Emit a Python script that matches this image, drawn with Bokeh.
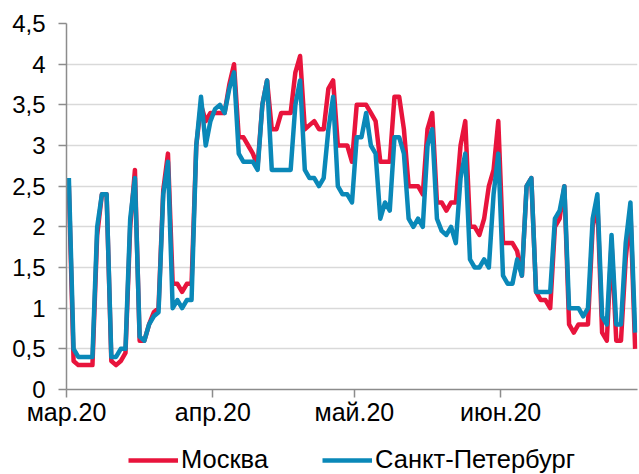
import pandas as pd
from bokeh.plotting import figure
from bokeh.layouts import column
from bokeh.models import Range1d, FixedTicker, Legend, LegendItem, CustomJSTickFormatter
from bokeh.embed import file_html
from bokeh.resources import INLINE

start_date = "2020-03-01"

moscow = [2.5, 0.35, 0.3, 0.3, 0.3, 0.3, 1.9, 2.4, 2.4, 0.35,
          0.3, 0.35, 0.45, 2.0, 2.7, 0.6, 0.6, 0.8, 0.95, 1.0,
          2.45, 2.9, 1.3, 1.3, 1.2, 1.3, 1.3, 3.0, 3.5, 3.3,
          3.4, 3.4, 3.4, 3.4, 3.75, 4.0, 3.1, 3.1, 3.0, 2.9,
          2.75, 3.5, 3.8, 3.2, 3.2, 3.4, 3.4, 3.4, 3.9, 4.1,
          3.2, 3.25, 3.3, 3.2, 3.2, 3.7, 3.8, 3.0, 3.0, 3.0,
          2.8, 3.5, 3.5, 3.5, 3.4, 3.3, 2.8, 2.8, 2.8, 3.6,
          3.6, 3.2, 2.5, 2.5, 2.5, 2.4, 3.2, 3.4, 2.3, 2.3,
          2.2, 2.3, 2.3, 3.0, 3.3, 2.0, 2.0, 1.9, 2.1, 2.5,
          2.7, 3.3, 1.8, 1.8, 1.8, 1.7, 1.4, 2.5, 2.6, 1.2,
          1.1, 1.1, 1.0, 2.0, 2.1, 2.5, 0.8, 0.7, 0.8, 0.8,
          0.8, 2.0, 2.3, 0.7, 0.6, 1.8, 0.6, 0.6, 1.6, 2.2,
          0.5]

spb = [2.6, 0.5, 0.4, 0.4, 0.4, 0.4, 2.0, 2.4, 2.4, 0.4,
       0.4, 0.5, 0.5, 2.1, 2.6, 0.65, 0.6, 0.8, 0.9, 0.95,
       2.4, 2.8, 1.0, 1.1, 1.0, 1.1, 1.1, 3.0, 3.6, 3.0,
       3.3, 3.45, 3.5, 3.4, 3.7, 3.9, 2.9, 2.8, 2.8, 2.8,
       2.7, 3.5, 3.8, 2.7, 2.7, 2.7, 2.7, 2.7, 3.5, 3.8,
       2.7, 2.6, 2.6, 2.5, 2.6, 3.2, 3.6, 2.5, 2.4, 2.4,
       2.3, 3.1, 3.1, 3.4, 3.0, 2.9, 2.1, 2.3, 2.2, 3.1,
       3.1, 2.9, 2.1, 2.0, 2.1, 2.0, 3.0, 3.2, 2.1, 1.95,
       1.9, 2.0, 1.8, 2.6, 2.9, 1.6, 1.5, 1.5, 1.6, 1.5,
       2.4, 2.9, 1.4, 1.3, 1.3, 1.6, 1.4, 2.5, 2.6, 1.2,
       1.2, 1.2, 1.2, 2.1, 2.2, 2.5, 1.0, 1.0, 1.0, 0.9,
       1.0, 2.1, 2.4, 0.9, 0.8, 1.9, 0.8, 0.8, 1.8, 2.3,
       0.7]

series_names = ["Москва", "Санкт-Петербург"]
month_starts = ["2020-03-01", "2020-04-01", "2020-05-01", "2020-06-01"]
month_labels = ["мар.20", "апр.20", "май.20", "июн.20"]
y_ticks = [0, 0.5, 1, 1.5, 2, 2.5, 3, 3.5, 4, 4.5]

dates = pd.date_range(start_date, periods=len(moscow), freq="D")
t0 = dates[0]
x = [(d - t0).days + 0.5 for d in dates]
tick_pos = [(pd.Timestamp(m) - t0).days for m in month_starts]

FONT = "Liberation Sans"
RED = "#E8143C"
BLUE = "#0A88B8"
AXIS = "#8C8C8C"

p = figure(width=639, height=428, output_backend="svg", toolbar_location=None,
           x_range=Range1d(0, len(moscow)), y_range=Range1d(0, 4.5),
           min_border_left=66, min_border_top=23, min_border_right=2, min_border_bottom=39)
p.outline_line_color = None
p.background_fill_color = "white"
p.border_fill_color = "white"

r1 = p.line(x, moscow, line_color=RED, line_width=4.5, line_join="round")
r2 = p.line(x, spb, line_color=BLUE, line_width=4.5, line_join="round")

p.xgrid.visible = False
p.ygrid.grid_line_color = "#D9D9D9"
p.ygrid.grid_line_width = 1.5

p.yaxis.ticker = FixedTicker(ticks=y_ticks)
p.yaxis.formatter = CustomJSTickFormatter(code="return (Math.round(tick*10)/10).toString().replace('.', ',');")
p.xaxis.ticker = FixedTicker(ticks=tick_pos)
p.xaxis.major_label_overrides = dict(zip(tick_pos, month_labels))

for ax in (p.xaxis[0], p.yaxis[0]):
    ax.axis_line_color = AXIS
    ax.axis_line_width = 1.5
    ax.major_tick_line_color = AXIS
    ax.major_tick_line_width = 1.5
    ax.major_tick_out = 8
    ax.major_tick_in = 0
    ax.minor_tick_line_color = None
    ax.major_label_text_font = FONT
    ax.major_label_text_color = "#000000"
p.yaxis.major_label_text_font_size = "24px"
p.xaxis.major_label_text_font_size = "25px"
p.yaxis.major_label_standoff = 13
p.xaxis.major_label_standoff = 0

# legend row as its own small figure below the chart (its frame aligns with the chart's frame)
q = figure(width=639, height=46, output_backend="svg", toolbar_location=None,
           x_range=Range1d(0, 1), y_range=Range1d(0, 1),
           x_axis_type=None, y_axis_type=None,
           min_border_left=0, min_border_right=0, min_border_top=0, min_border_bottom=0)
q.outline_line_color = None
q.background_fill_color = "white"
q.border_fill_color = "white"
l1 = q.line([-5, -4], [-5, -5], line_color=RED, line_width=4.5)
l2 = q.line([-5, -4], [-5, -5], line_color=BLUE, line_width=4.5)

legend = Legend(items=[LegendItem(label=series_names[0], renderers=[l1]),
                       LegendItem(label=series_names[1], renderers=[l2])],
                orientation="horizontal", location=(62, 0))
legend.label_text_font = FONT
legend.label_text_font_size = "25.5px"
legend.label_text_color = "#000000"
legend.glyph_width = 50
legend.glyph_height = 24
legend.label_standoff = 3
legend.spacing = 54
legend.padding = 0
legend.margin = 0
legend.border_line_color = None
legend.background_fill_alpha = 0
q.add_layout(legend, "center")

layout = column(p, q, spacing=0)
open("out.html", "w").write(file_html(layout, INLINE))
